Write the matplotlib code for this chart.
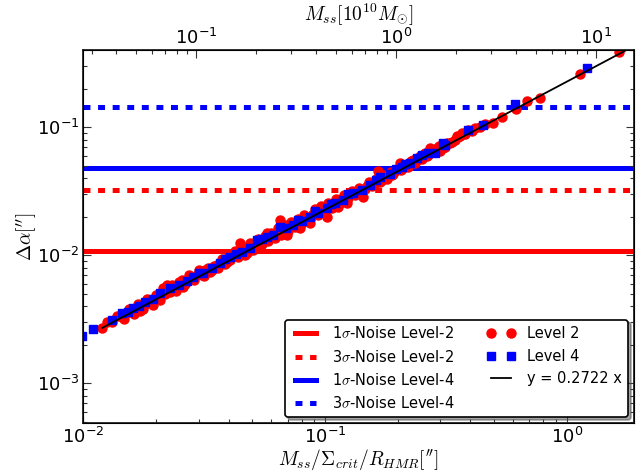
import numpy as np
import matplotlib
matplotlib.use("Agg")
import matplotlib.pyplot as plt

plt.rcParams['mathtext.fontset'] = 'cm'
plt.rcParams['font.family'] = ['DejaVu Sans']
plt.rcParams['lines.scale_dashes'] = False

# noise levels (arcsec), 1 sigma; 3 sigma is drawn at 3x
noise_level2 = 0.0108
noise_level4 = 0.0478

# Level 2 simulation (red circles)
lvl2_x = [0.0119, 0.0132, 0.0144, 0.0150, 0.0159, 0.0166, 0.0172, 0.0178, 0.0186, 0.0195,
          0.0203, 0.0214, 0.0221, 0.0228, 0.0236, 0.0245, 0.0255, 0.0259, 0.0270, 0.0281,
          0.0295, 0.0309, 0.0320, 0.0334, 0.0346, 0.0356, 0.0368, 0.0380, 0.0393, 0.0405,
          0.0418, 0.0430, 0.0445, 0.0452, 0.0467, 0.0482, 0.0496, 0.0510, 0.0522, 0.0538,
          0.0555, 0.0574, 0.0590, 0.0610, 0.0630, 0.0650, 0.0668, 0.0694, 0.0712, 0.0735,
          0.0760, 0.0788, 0.0810, 0.0835, 0.0867, 0.0890, 0.0920, 0.0950, 0.0980, 0.1016,
          0.1050, 0.1090, 0.1135, 0.1170, 0.1230, 0.1270, 0.1310, 0.1360, 0.1400, 0.1440,
          0.1490, 0.1540, 0.1600, 0.1662, 0.1720, 0.1780, 0.1840, 0.1888, 0.1950, 0.2043,
          0.2100, 0.2180, 0.2250, 0.2318, 0.2400, 0.2480, 0.2560, 0.2650, 0.2720, 0.2760,
          0.2900, 0.3000, 0.3140, 0.3290, 0.3450, 0.3510, 0.3620, 0.3680, 0.3920, 0.4170,
          0.4400, 0.4590, 0.4970, 0.5380, 0.6170, 0.6830, 0.7750, 1.1350, 1.6460,
          0.0125, 0.0138, 0.0147, 0.0155, 0.0162, 0.0169, 0.0176, 0.0183, 0.0190, 0.0199,
          0.0208, 0.0218, 0.0232, 0.0241, 0.0250, 0.0263, 0.0275, 0.0288, 0.0302, 0.0315,
          0.0327, 0.0340, 0.0362, 0.0374, 0.0386, 0.0399, 0.0424, 0.0437, 0.0460, 0.0475,
          0.0489, 0.0503, 0.0530, 0.0547, 0.0565, 0.0582, 0.0600, 0.0620, 0.0640, 0.0660,
          0.0680, 0.0703, 0.0724, 0.0748, 0.0772, 0.0800, 0.0822, 0.0850, 0.0878, 0.0905,
          0.0935, 0.0965, 0.1000, 0.1033, 0.1070, 0.1110, 0.1150, 0.1200, 0.1250, 0.1290,
          0.1335, 0.1380, 0.1420, 0.1465, 0.1515, 0.1570, 0.1630, 0.1690, 0.1750, 0.1810,
          0.1870, 0.1920, 0.2000, 0.2070, 0.2140, 0.2210, 0.2280, 0.2360, 0.2440, 0.2520,
          0.2600, 0.2680, 0.2820, 0.2950, 0.3070, 0.3200, 0.3370, 0.3550, 0.3800, 0.4050]
lvl2_y = [0.00269, 0.00300, 0.00331, 0.00352, 0.00363, 0.00385, 0.00370, 0.00410, 0.00434, 0.00409,
          0.00470, 0.00552, 0.00586, 0.00515, 0.00540, 0.00590, 0.00641, 0.00569, 0.00630, 0.00660,
          0.00700, 0.00702, 0.00770, 0.00745, 0.00820, 0.00840, 0.00850, 0.00900, 0.00880, 0.00919,
          0.01010, 0.00985, 0.01250, 0.01040, 0.01005, 0.01130, 0.01150, 0.01170, 0.01318, 0.01135,
          0.01290, 0.01487, 0.01360, 0.01410, 0.01500, 0.01888, 0.01560, 0.01442, 0.01680, 0.01700,
          0.01780, 0.01626, 0.01900, 0.01960, 0.01780, 0.02100, 0.02150, 0.02200, 0.02300, 0.02000,
          0.02450, 0.02560, 0.02400, 0.02750, 0.02547, 0.02950, 0.03000, 0.03150, 0.03100, 0.02870,
          0.03450, 0.03600, 0.03550, 0.04580, 0.03850, 0.04100, 0.04250, 0.04240, 0.04550, 0.05230,
          0.04800, 0.05150, 0.05250, 0.05550, 0.05500, 0.05900, 0.06150, 0.05950, 0.06860, 0.06650,
          0.06860, 0.06500, 0.07050, 0.07500, 0.07900, 0.08550, 0.08450, 0.08980, 0.09530, 0.09820,
          0.10100, 0.10600, 0.10860, 0.12100, 0.13800, 0.16050, 0.17000, 0.25940, 0.38500,
          0.00300, 0.00335, 0.00320, 0.00380, 0.00345, 0.00415, 0.00380, 0.00455, 0.00420, 0.00490,
          0.00450, 0.00500, 0.00590, 0.00530, 0.00620, 0.00600, 0.00700, 0.00640, 0.00760, 0.00690,
          0.00800, 0.00760, 0.00800, 0.00930, 0.00860, 0.01000, 0.01080, 0.00960, 0.01150, 0.01050,
          0.01250, 0.01100, 0.01350, 0.01220, 0.01400, 0.01290, 0.01500, 0.01360, 0.01620, 0.01450,
          0.01720, 0.01550, 0.01820, 0.01650, 0.01930, 0.01770, 0.02060, 0.01900, 0.02000, 0.02280,
          0.02050, 0.02420, 0.02240, 0.02560, 0.02350, 0.02750, 0.02550, 0.02950, 0.02780, 0.03150,
          0.02950, 0.03350, 0.03150, 0.03300, 0.03750, 0.03450, 0.03900, 0.03750, 0.04200, 0.03950,
          0.04500, 0.04300, 0.04700, 0.04600, 0.05050, 0.04900, 0.05450, 0.05250, 0.05750, 0.05600,
          0.06300, 0.06100, 0.06550, 0.07100, 0.06900, 0.07550, 0.07700, 0.08300, 0.08800, 0.09400]

# Level 4 simulation (blue squares)
lvl4_x = [0.00985, 0.0110, 0.0131, 0.0144, 0.0153, 0.0161, 0.0170, 0.0180, 0.0195, 0.0208,
          0.0228, 0.0250, 0.0268, 0.0285, 0.0314, 0.0340, 0.0368, 0.0405, 0.0452, 0.0490,
          0.0522, 0.0574, 0.0610, 0.0651, 0.0690, 0.0739, 0.0800, 0.0867, 0.0940, 0.1016,
          0.1100, 0.1190, 0.1310, 0.1420, 0.1536, 0.1690, 0.1850, 0.2076, 0.2250, 0.2394,
          0.2675, 0.2840, 0.3088, 0.3140, 0.3890, 0.4520, 0.6110, 1.2100,
          0.0300, 0.0385, 0.0430, 0.0550, 0.0775, 0.0905, 0.1060, 0.1250, 0.1620, 0.1960,
          0.2150, 0.2520]
lvl4_y = [0.00232, 0.00264, 0.00312, 0.00352, 0.00360, 0.00385, 0.00400, 0.00434, 0.00455, 0.00505,
          0.00552, 0.00590, 0.00630, 0.00681, 0.00724, 0.00790, 0.00866, 0.00975, 0.01067, 0.01130,
          0.01318, 0.01397, 0.01450, 0.01670, 0.01620, 0.01724, 0.01850, 0.02004, 0.02150, 0.02328,
          0.02550, 0.02710, 0.03050, 0.03250, 0.03540, 0.04110, 0.04300, 0.04920, 0.05200, 0.05730,
          0.06270, 0.06260, 0.07500, 0.07270, 0.09530, 0.10400, 0.15200, 0.28900,
          0.00720, 0.00930, 0.01030, 0.01350, 0.01880, 0.02200, 0.02530, 0.03000, 0.03850, 0.04700,
          0.05150, 0.06050]

# linear fit as drawn in the picture, and the label printed in the legend
fit_slope = 0.226
fit_label = 'y = 0.2722 x'
fit_x = [0.012, 2.0]

fig = plt.figure(figsize=(6.37, 4.72), dpi=100)
ax = fig.add_axes([0.1308, 0.1038, 0.8645, 0.7903])

dash = (5, 5.5)
ax.axhline(noise_level2, color='red', lw=3.6, zorder=1, label='1$\\sigma$-Noise Level-2')
ax.axhline(3 * noise_level2, color='red', lw=3.6, dashes=dash, zorder=1,
           label='3$\\sigma$-Noise Level-2')
ax.axhline(noise_level4, color='blue', lw=3.6, zorder=1, label='1$\\sigma$-Noise Level-4')
ax.axhline(3 * noise_level4, color='blue', lw=3.6, dashes=dash, zorder=1,
           label='3$\\sigma$-Noise Level-4')

ax.plot(lvl2_x, lvl2_y, 'o', color='red', mec='red', ms=6.5, zorder=2, label='Level 2')
ax.plot(lvl4_x, lvl4_y, 's', color='blue', mec='blue', ms=5.3, zorder=3, label='Level 4')
fx = np.array(fit_x)
ax.plot(fx, fit_slope * fx, '-', color='black', lw=1.3, zorder=4, label=fit_label)

ax.set_xscale('log')
ax.set_yscale('log')
ax.set_xlim(0.01, 1.9)
ax.set_ylim(4.9e-4, 0.40)

ax.set_xlabel(r'$M_{ss}/\Sigma_{crit}/R_{HMR}[^{\prime\prime}]$', fontsize=14, labelpad=0)
ax.set_ylabel(r'$\Delta\alpha[^{\prime\prime}]$', fontsize=14, labelpad=-2)
ax.tick_params(which='both', direction='in', top=False, right=True, labelsize=13, pad=3,
               width=0.8, color='#333333')
ax.tick_params(which='major', length=6)
ax.tick_params(which='minor', length=3)
for s in ax.spines.values():
    s.set_linewidth(1.3)
    s.set_color('#222222')

# top axis: satellite mass
ax2 = ax.twiny()
ax2.set_xscale('log')
ax2.set_xlim(0.0273, 15.5)
ax2.set_xlabel(r'$M_{ss}[10^{10}M_{\odot}]$', fontsize=14, labelpad=5)
ax2.tick_params(which='both', direction='in', labelsize=13, pad=1.5, width=0.8, color='#333333')
ax2.tick_params(which='major', length=6)
ax2.tick_params(which='minor', length=3)

leg = ax.legend(loc='lower right', ncol=2, numpoints=2, fontsize=10.5, fancybox=True,
                shadow=True, framealpha=1, edgecolor='black', borderaxespad=0.4,
                columnspacing=2.2, handlelength=2.0, labelspacing=0.5)
leg.get_frame().set_linewidth(1.2)

fig.savefig('out.png', dpi=100)
